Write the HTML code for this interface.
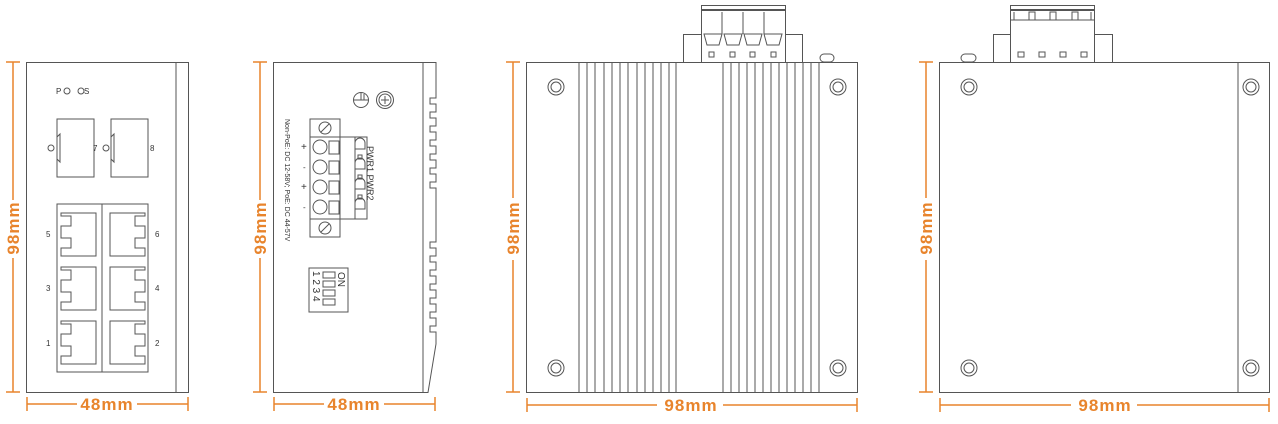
<!DOCTYPE html>
<html><head><meta charset="utf-8"><style>
html,body{margin:0;padding:0;background:#fff;width:1278px;height:424px;overflow:hidden}
svg{display:block}
.o{stroke:#e8842c;stroke-width:1.5;fill:none}
.t{fill:#e8842c;font-family:"Liberation Sans",sans-serif;font-weight:bold;font-size:17px;letter-spacing:1px}
.k{stroke:#555;stroke-width:1;fill:none}
.s{font-family:"Liberation Sans",sans-serif;font-size:8px;fill:#333}
</style></head><body>
<svg width="1278" height="424" viewBox="0 0 1278 424" xmlns="http://www.w3.org/2000/svg">
<!-- ===== View 1 ===== -->
<g class="k">
<rect x="26.5" y="62.5" width="162" height="330"/>
<line x1="176" y1="62" x2="176" y2="392"/>
<rect x="57" y="119" width="37" height="58"/>
<rect x="111" y="119" width="37" height="58"/>
<path d="M60 134 l-3 3 v22 l3 3 z"/>
<path d="M114 134 l-3 3 v22 l3 3 z"/>
<circle cx="51" cy="148" r="3"/>
<circle cx="106" cy="148" r="3"/>
<circle cx="67" cy="91" r="3"/>
<circle cx="81" cy="91" r="3"/>
<rect x="57" y="204" width="91" height="168"/>
<line x1="102" y1="204" x2="102" y2="372"/>
<g id="pl">
<path d="M61 213 h35 v43 h-35 v-8 h10 v-10 h-10 v-12 h10 v-10 h-10 z"/>
</g>
<use href="#pl" y="54"/><use href="#pl" y="108"/>
<g id="pr">
<path d="M145 213 h-35 v43 h35 v-8 h-10 v-10 h10 v-12 h-10 v-10 h10 z"/>
</g>
<use href="#pr" y="54"/><use href="#pr" y="108"/>
</g>
<text class="s" x="56" y="94">P</text><text class="s" x="84" y="94">S</text>
<text class="s" x="93" y="151">7</text><text class="s" x="150" y="151">8</text>
<text class="s" x="46" y="237">5</text><text class="s" x="155" y="237">6</text>
<text class="s" x="46" y="291">3</text><text class="s" x="155" y="291">4</text>
<text class="s" x="46" y="346">1</text><text class="s" x="155" y="346">2</text>
<g class="o">
<line x1="13" y1="62" x2="13" y2="200"/><line x1="13" y1="258" x2="13" y2="392"/>
<line x1="6" y1="62" x2="20" y2="62"/><line x1="6" y1="392" x2="20" y2="392"/>
<line x1="27" y1="404" x2="77" y2="404"/><line x1="137" y1="404" x2="188" y2="404"/>
<line x1="27" y1="397" x2="27" y2="411"/><line x1="188" y1="397" x2="188" y2="411"/>
</g>
<text class="t" x="107" y="410" text-anchor="middle">48mm</text>
<text class="t" transform="translate(19,228) rotate(-90)" text-anchor="middle">98mm</text>

<!-- ===== View 2 ===== -->
<g class="k">
<path d="M273.5 62.5 H436 V98 h-6 v6 h6 v8 h-6 v6 h6 v8 h-6 v6 h6 v8 h-6 v6 h6 v8 h-6 v6 h6 v8 h-6 v6 h6 v8 h-6 v6 h6 v10 V242 h-6 v6 h6 v8 h-6 v6 h6 v8 h-6 v6 h6 v8 h-6 v6 h6 v8 h-6 v6 h6 v8 h-6 v6 h6 v8 h-6 v6 h6 v12 L428 392.5 H273.5 Z"/>
<line x1="423" y1="62" x2="423" y2="392"/>
<circle cx="361" cy="100" r="7.5"/><line x1="354" y1="100" x2="368" y2="100"/><line x1="361" y1="93" x2="361" y2="100"/><line x1="364" y1="94" x2="364" y2="100"/>
<circle cx="385" cy="100" r="8.5"/><circle cx="385" cy="100" r="6"/><path d="M385 96v8M381 100h8"/>
<rect x="310" y="119" width="30" height="118"/>
<rect x="310" y="137" width="57" height="82"/>
<circle cx="325" cy="128" r="6"/><line x1="321" y1="132" x2="329" y2="124"/>
<circle cx="325" cy="228" r="6"/><line x1="321" y1="232" x2="329" y2="224"/>
<circle cx="320" cy="147" r="7"/><circle cx="320" cy="167" r="7"/><circle cx="320" cy="187" r="7"/><circle cx="320" cy="207" r="7"/>
<rect x="329" y="141" width="10" height="13"/><rect x="329" y="161" width="10" height="13"/><rect x="329" y="181" width="10" height="13"/><rect x="329" y="201" width="10" height="13"/>
<line x1="355" y1="137" x2="355" y2="219"/>
<path d="M355 143 a5 5 0 0 1 10 0 v6 h-10"/><path d="M355 163 a5 5 0 0 1 10 0 v6 h-10"/><path d="M355 183 a5 5 0 0 1 10 0 v6 h-10"/><path d="M355 203 a5 5 0 0 1 10 0 v6 h-10"/>
<rect x="358" y="155" width="4" height="4"/><rect x="358" y="175" width="4" height="4"/><rect x="358" y="195" width="4" height="4"/>
<rect x="309" y="268" width="39" height="44"/>
<rect x="323" y="272" width="12" height="6"/><rect x="323" y="281" width="12" height="6"/><rect x="323" y="290" width="12" height="6"/><rect x="323" y="299" width="12" height="6"/>
</g>
<text class="s" style="font-size:7px" transform="translate(285,119) rotate(90)">Non-PoE: DC 12-58V; PoE: DC 44-57V</text>
<text class="s" style="font-size:9px" transform="translate(367,146) rotate(90)">PWR1  PWR2</text>
<text class="s" style="font-size:10px" x="301" y="150">+</text><text class="s" x="303" y="170">-</text>
<text class="s" style="font-size:10px" x="301" y="190">+</text><text class="s" x="303" y="210">-</text>
<text class="s" style="font-size:10px" transform="translate(338,272) rotate(90)">ON</text>
<text class="s" style="font-size:10px" transform="translate(313,271) rotate(90)">1 2 3 4</text>
<g class="o">
<line x1="260" y1="62" x2="260" y2="200"/><line x1="260" y1="258" x2="260" y2="392"/>
<line x1="253" y1="62" x2="267" y2="62"/><line x1="253" y1="392" x2="267" y2="392"/>
<line x1="274" y1="404" x2="324" y2="404"/><line x1="384" y1="404" x2="435" y2="404"/>
<line x1="274" y1="397" x2="274" y2="411"/><line x1="435" y1="397" x2="435" y2="411"/>
</g>
<text class="t" x="354" y="410" text-anchor="middle">48mm</text>
<text class="t" transform="translate(266,228) rotate(-90)" text-anchor="middle">98mm</text>

<!-- ===== View 3 ===== -->
<g class="k">
<rect x="526.5" y="62.5" width="331" height="330"/>
<path d="M579 62V392M587 62V392M595 62V392M604 62V392M612 62V392M620 62V392M628 62V392M637 62V392M645 62V392M653 62V392M661 62V392M669 62V392M676 62V392"/>
<path d="M723 62V392M731 62V392M739 62V392M747 62V392M755 62V392M763 62V392M771 62V392M779 62V392M787 62V392M795 62V392M803 62V392M811 62V392M819 62V392"/>
<circle cx="556" cy="87" r="8"/><circle cx="556" cy="87" r="5"/>
<circle cx="556" cy="368" r="8"/><circle cx="556" cy="368" r="5"/>
<circle cx="838" cy="87" r="8"/><circle cx="838" cy="87" r="5"/>
<circle cx="838" cy="368" r="8"/><circle cx="838" cy="368" r="5"/>
<rect x="683.5" y="34.5" width="119" height="28"/>
<rect x="701.5" y="5.5" width="84" height="57" fill="#fff"/>
<line x1="701" y1="10" x2="786" y2="10" stroke-width="2"/>
<path d="M722 12v22M743 12v22M764 12v22"/>
<path d="M704 34h18l-3 11h-12zM724 34h18l-3 11h-12zM744 34h18l-3 11h-12zM764 34h18l-3 11h-12z"/>
<rect x="709" y="52" width="5" height="5"/><rect x="730" y="52" width="5" height="5"/><rect x="750" y="52" width="5" height="5"/><rect x="771" y="52" width="5" height="5"/>
<rect x="820" y="54" width="14" height="8" rx="4"/>
</g>
<g class="o">
<line x1="513" y1="62" x2="513" y2="198"/><line x1="513" y1="260" x2="513" y2="392"/>
<line x1="506" y1="62" x2="520" y2="62"/><line x1="506" y1="392" x2="520" y2="392"/>
<line x1="527" y1="405" x2="657" y2="405"/><line x1="723" y1="405" x2="857" y2="405"/>
<line x1="527" y1="398" x2="527" y2="412"/><line x1="857" y1="398" x2="857" y2="412"/>
</g>
<text class="t" x="691" y="411" text-anchor="middle">98mm</text>
<text class="t" transform="translate(519,228) rotate(-90)" text-anchor="middle">98mm</text>

<!-- ===== View 4 ===== -->
<g class="k">
<rect x="939.5" y="62.5" width="330" height="330"/>
<line x1="1238" y1="62" x2="1238" y2="392"/>
<circle cx="969" cy="87" r="8"/><circle cx="969" cy="87" r="5"/>
<circle cx="969" cy="368" r="8"/><circle cx="969" cy="368" r="5"/>
<circle cx="1251" cy="87" r="8"/><circle cx="1251" cy="87" r="5"/>
<circle cx="1251" cy="368" r="8"/><circle cx="1251" cy="368" r="5"/>
<rect x="993.5" y="34.5" width="119" height="28"/>
<rect x="1010.5" y="5.5" width="84" height="57" fill="#fff"/>
<line x1="1010" y1="10" x2="1095" y2="10" stroke-width="2"/>
<line x1="1010" y1="20" x2="1095" y2="20"/>
<path d="M1014 12v8M1091 12v8"/>
<rect x="1029" y="12" width="6" height="8"/><rect x="1050" y="12" width="6" height="8"/><rect x="1072" y="12" width="6" height="8"/>
<rect x="1018" y="52" width="6" height="5"/><rect x="1039" y="52" width="6" height="5"/><rect x="1060" y="52" width="6" height="5"/><rect x="1081" y="52" width="6" height="5"/>
<rect x="961" y="54" width="15" height="8" rx="4"/>
</g>
<g class="o">
<line x1="926" y1="62" x2="926" y2="198"/><line x1="926" y1="260" x2="926" y2="392"/>
<line x1="919" y1="62" x2="933" y2="62"/><line x1="919" y1="392" x2="933" y2="392"/>
<line x1="940" y1="405" x2="1071" y2="405"/><line x1="1137" y1="405" x2="1269" y2="405"/>
<line x1="940" y1="398" x2="940" y2="412"/><line x1="1269" y1="398" x2="1269" y2="412"/>
</g>
<text class="t" x="1105" y="411" text-anchor="middle">98mm</text>
<text class="t" transform="translate(932,228) rotate(-90)" text-anchor="middle">98mm</text>
</svg>
</body></html>
